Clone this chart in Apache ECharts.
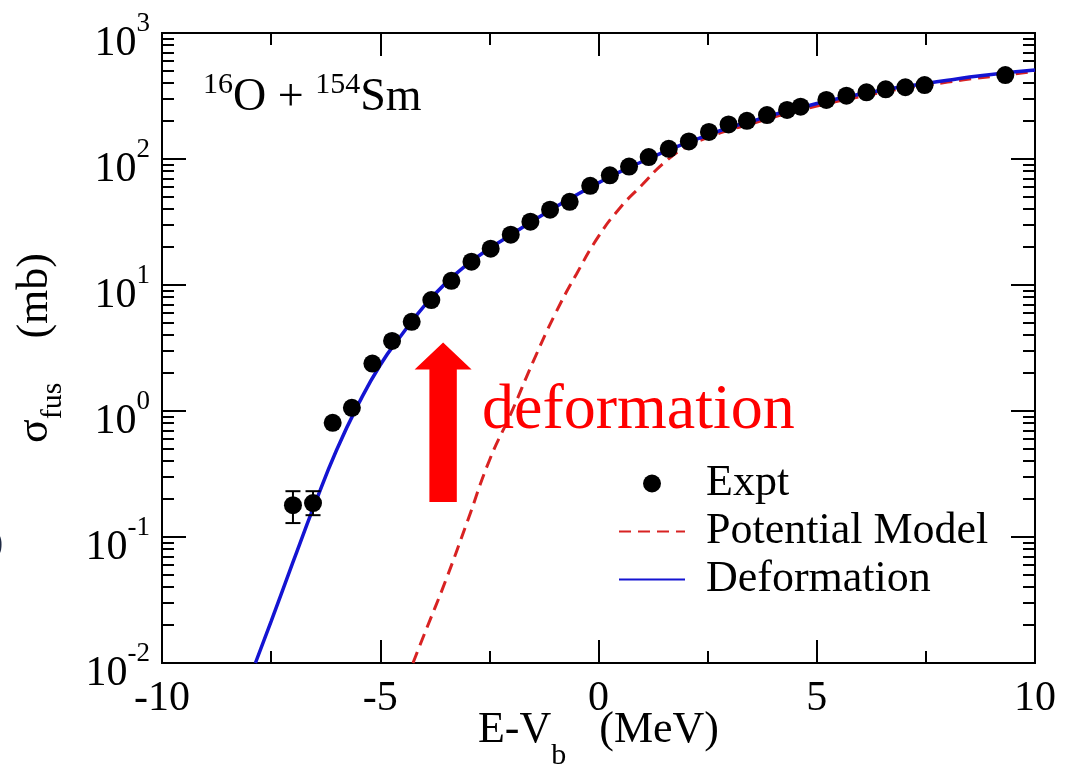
<!DOCTYPE html>
<html>
<head>
<meta charset="utf-8">
<title>16O + 154Sm fusion cross section</title>
<script src="https://cdn.jsdelivr.net/npm/echarts@6/dist/echarts.min.js"></script>
<style>
  html, body { margin: 0; padding: 0; background: #fff; }
  #chart { width: 1065px; height: 770px; }
</style>
</head>
<body>
<div id="chart"></div>
<script>
// Expt points: E - Vb (MeV) and sigma_fus (mb)
const exptE = [-7.00, -6.54, -6.09, -5.65, -5.18, -4.73, -4.28, -3.83, -3.37, -2.91,
  -2.47, -2.01, -1.56, -1.11, -0.66, -0.19, 0.26, 0.70, 1.15, 1.61,
  2.07, 2.53, 2.98, 3.40, 3.86, 4.32, 4.63, 5.22, 5.68, 6.14,
  6.58, 7.03, 7.47, 9.32];
const exptSigma = [0.179, 0.186, 0.805, 1.06, 2.38, 3.60, 5.10, 7.59, 10.8, 15.3,
  19.4, 25.1, 31.8, 39.6, 45.7, 61.3, 74.2, 87.0, 103.5, 120.5,
  138, 164, 188, 201, 223, 245, 260, 294, 318, 338,
  357, 371, 386, 464];

// error bars (only visible on the two lowest points)
const errE = [-7.00, -6.54];
const errLow = [0.129, 0.149];
const errHigh = [0.231, 0.231];

// Potential Model (red dashed)
const potE = [-4.25, -4.0, -3.5, -3.0, -2.5, -2.0, -1.5, -1.0, -0.5, 0.0,
  0.5, 1.0, 1.5, 2.0, 2.5, 3.0, 3.5, 4.0, 4.5, 5.0,
  5.5, 6.0, 6.5, 7.0, 7.5, 8.0, 8.5, 9.0, 9.5, 10.0];
const potSigma = [0.010, 0.0166, 0.0452, 0.134, 0.405, 0.966, 2.45, 5.82, 12.3, 24.3,
  41.2, 62.4, 93.3, 124.5, 147.9, 169.8, 190.5, 213.8, 237.1, 263.0,
  288.4, 312.6, 338.8, 363.1, 384.6, 407.4, 431.5, 451.9, 473.2, 495.5];

// Deformation (blue solid)
const defE = [-7.86, -7.5, -7.0, -6.5, -6.0, -5.5, -5.0, -4.5, -4.0, -3.5,
  -3.0, -2.5, -2.0, -1.5, -1.0, -0.5, 0.0, 0.5, 1.0, 1.5,
  2.0, 2.5, 3.0, 3.5, 4.0, 4.5, 5.0, 5.5, 6.0, 6.5,
  7.0, 7.5, 8.0, 8.5, 9.0, 9.5, 10.0];
const defSigma = [0.010, 0.0214, 0.0631, 0.182, 0.490, 1.135, 2.32, 4.07, 6.76, 10.35,
  14.6, 19.5, 25.1, 32.4, 41.2, 51.9, 64.6, 79.4, 95.5, 113.5,
  133.4, 154.9, 177.8, 199.5, 223.9, 248.3, 275.4, 302, 327.3, 350.8,
  375.8, 398.1, 421.7, 446.7, 467.7, 489.8, 508.2];

// y ticks
const yMajor = [0.01, 0.1, 1, 10, 100, 1000];
const yMinor = [0.02, 0.03, 0.04, 0.05, 0.06, 0.07, 0.08, 0.09,
  0.2, 0.3, 0.4, 0.5, 0.6, 0.7, 0.8, 0.9,
  2, 3, 4, 5, 6, 7, 8, 9,
  20, 30, 40, 50, 60, 70, 80, 90,
  200, 300, 400, 500, 600, 700, 800, 900];

// arrow annotation (data coords)
const arrowE = -3.56;
const arrowTail = 0.19;
const arrowHeadBase = 2.13;
const arrowTip = 3.5;

const FONT = '"Liberation Serif", "DejaVu Serif", serif';

const chart = echarts.init(document.getElementById('chart'));

const xAxisBase = {
  type: 'value',
  min: -10,
  max: 10,
  interval: 5,
  axisLine: { show: true, onZero: false, lineStyle: { color: '#000', width: 2 } },
  axisTick: { show: true, inside: true, length: 23, lineStyle: { color: '#000', width: 2 } },
  minorTick: { show: true, splitNumber: 2, length: 12, lineStyle: { color: '#000', width: 2 } },
  splitLine: { show: false },
  minorSplitLine: { show: false }
};

const yAxisBase = {
  type: 'log',
  logBase: 10,
  min: 0.01,
  max: 1000,
  axisLine: { show: true, onZero: false, lineStyle: { color: '#000', width: 2 } },
  splitLine: { show: false }
};

const option = {
  animation: false,
  backgroundColor: '#fff',
  grid: { left: 162, top: 33, width: 873, height: 630, containLabel: false, outerBoundsMode: 'none' },
  xAxis: [
    Object.assign({}, xAxisBase, {
      position: 'bottom',
      name: '{n|E-V}{s|b}{n|   (MeV)}',
      nameLocation: 'middle',
      nameGap: 45,
      nameMoveOverlap: false,
      nameTextStyle: {
        fontFamily: FONT,
        color: '#000',
        verticalAlign: 'top',
        rich: {
          n: { fontFamily: FONT, fontSize: 44, lineHeight: 44, color: '#000' },
          s: { fontFamily: FONT, fontSize: 30, lineHeight: 30, color: '#000', padding: [52, 0, 0, 0] }
        }
      },
      axisLabel: { show: true, margin: 15, fontFamily: FONT, fontSize: 42, lineHeight: 42, color: '#000' }
    }),
    Object.assign({}, xAxisBase, {
      position: 'top',
      axisLabel: { show: false }
    })
  ],
  yAxis: [
    Object.assign({}, yAxisBase, {
      position: 'left',
      axisTick: { show: true, inside: true, length: 24, customValues: yMajor, lineStyle: { color: '#000', width: 2 } },
      axisLabel: {
        show: true,
        customValues: yMajor,
        margin: 12,
        padding: [22, 0, 0, 0],
        formatter: function (v) {
          const p = Math.round(Math.log10(v));
          return '{b|10}{s|' + p + '}';
        },
        rich: {
          b: { fontFamily: FONT, fontSize: 42, lineHeight: 42, color: '#000' },
          s: { fontFamily: FONT, fontSize: 27, lineHeight: 27, color: '#000', padding: [0, 0, 40, 0] }
        }
      },
      name: '{n|σ}{s|fus}{n|    (mb)}',
      nameLocation: 'middle',
      nameRotate: 90,
      nameGap: 105,
      nameMoveOverlap: false,
      nameTextStyle: {
        fontFamily: FONT,
        color: '#000',
        rich: {
          n: { fontFamily: FONT, fontSize: 44, lineHeight: 44, color: '#000' },
          s: { fontFamily: FONT, fontSize: 30, lineHeight: 30, color: '#000', padding: [36, 0, 0, 0] }
        }
      }
    }),
    Object.assign({}, yAxisBase, {
      position: 'left',
      axisTick: { show: true, inside: true, length: 12, customValues: yMinor, lineStyle: { color: '#000', width: 2 } },
      axisLabel: { show: false }
    }),
    Object.assign({}, yAxisBase, {
      position: 'right',
      axisTick: { show: true, inside: true, length: 24, customValues: yMajor, lineStyle: { color: '#000', width: 2 } },
      axisLabel: { show: false }
    }),
    Object.assign({}, yAxisBase, {
      position: 'right',
      axisTick: { show: true, inside: true, length: 12, customValues: yMinor, lineStyle: { color: '#000', width: 2 } },
      axisLabel: { show: false }
    })
  ],
  legend: {
    orient: 'vertical',
    left: 613,
    top: 456,
    itemWidth: 66,
    itemHeight: 18,
    itemGap: 3,
    data: [
      { name: 'Expt' },
      { name: 'Potential Model', itemStyle: { opacity: 0 } },
      { name: 'Deformation', itemStyle: { opacity: 0 } }
    ],
    textStyle: { fontFamily: FONT, fontSize: 44, lineHeight: 45, color: '#000', padding: [0, 0, 0, 16] }
  },
  series: [
    {
      name: 'Potential Model',
      type: 'line',
      data: potE.map((e, i) => [e, potSigma[i]]),
      showSymbol: false,
      symbol: 'none',
      smooth: true,
      lineStyle: { color: '#d82222', width: 3, type: [12, 7] },
      itemStyle: { color: '#d82222' },
      z: 2
    },
    {
      name: 'Deformation',
      type: 'line',
      data: defE.map((e, i) => [e, defSigma[i]]),
      showSymbol: false,
      symbol: 'none',
      smooth: true,
      lineStyle: { color: '#1414d2', width: 3.5 },
      itemStyle: { color: '#1414d2' },
      z: 3
    },
    {
      type: 'custom',
      data: errE.map((e, i) => [e, errLow[i], errHigh[i]]),
      renderItem: function (params, api) {
        const x = api.value(0);
        const lo = api.coord([x, api.value(1)]);
        const hi = api.coord([x, api.value(2)]);
        const w = 7.5;
        const st = { stroke: '#000', lineWidth: 2 };
        return {
          type: 'group',
          children: [
            { type: 'line', shape: { x1: lo[0], y1: lo[1], x2: hi[0], y2: hi[1] }, style: st },
            { type: 'line', shape: { x1: lo[0] - w, y1: lo[1], x2: lo[0] + w, y2: lo[1] }, style: st },
            { type: 'line', shape: { x1: hi[0] - w, y1: hi[1], x2: hi[0] + w, y2: hi[1] }, style: st }
          ]
        };
      },
      z: 4
    },
    {
      name: 'Expt',
      type: 'scatter',
      data: exptE.map((e, i) => [e, exptSigma[i]]),
      symbol: 'circle',
      symbolSize: 18,
      itemStyle: { color: '#000', opacity: 1 },
      z: 5
    }
  ]
};

chart.setOption(option);

// annotations: reaction label, red arrow, "deformation"
const c = (e, s) => chart.convertToPixel({ xAxisIndex: 0, yAxisIndex: 0 }, [e, s]);
const tip = c(arrowE, arrowTip);
const base = c(arrowE, arrowHeadBase);
const tail = c(arrowE, arrowTail);
const headHalf = 28.5, shaftHalf = 13.7;

chart.setOption({
  graphic: [
    {
      type: 'text',
      left: 203,
      top: 70,
      style: {
        text: '{s|16}{n|O + }{s|154}{n|Sm}',
        rich: {
          n: { fontFamily: FONT, fontSize: 46, lineHeight: 46, fill: '#000' },
          s: { fontFamily: FONT, fontSize: 30, lineHeight: 30, fill: '#000', padding: [0, 0, 26, 0] }
        }
      }
    },
    {
      type: 'polygon',
      shape: {
        points: [
          [tip[0], tip[1]],
          [tip[0] + headHalf, base[1]],
          [tip[0] + shaftHalf, base[1]],
          [tip[0] + shaftHalf, tail[1]],
          [tip[0] - shaftHalf, tail[1]],
          [tip[0] - shaftHalf, base[1]],
          [tip[0] - headHalf, base[1]]
        ]
      },
      style: { fill: '#ff0000' },
      z: 10
    },
    {
      type: 'text',
      left: 482,
      top: 379,
      style: { text: 'deformation', fontFamily: FONT, fontSize: 64, fill: '#ff0000' },
      z: 10
    },
    {
      type: 'text',
      left: -16,
      top: 528,
      style: { text: '0', fontFamily: FONT, fontSize: 38, fill: '#1f2a44' }
    }
  ]
});
</script>
</body>
</html>
